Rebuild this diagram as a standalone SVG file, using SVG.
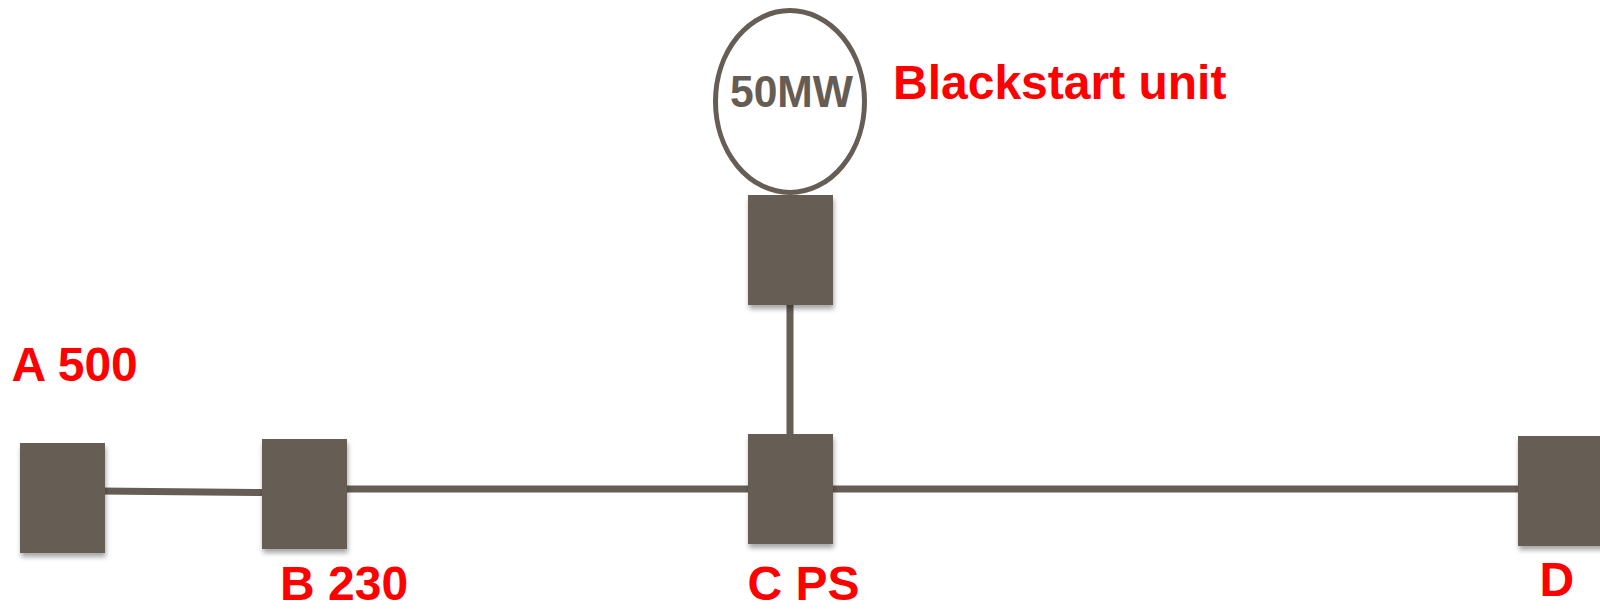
<svg xmlns="http://www.w3.org/2000/svg" width="1600" height="610" viewBox="0 0 1600 610">
  <defs>
    <filter id="shadow" x="-20%" y="-20%" width="140%" height="150%">
      <feDropShadow dx="1" dy="4" stdDeviation="2.5" flood-color="#000000" flood-opacity="0.35"/>
    </filter>
    <style>
      .bus { fill: #665d55; filter: url(#shadow); }
      .line { stroke: #665d55; stroke-width: 7; fill: none; }
      .label { font-family: "Liberation Sans", Arial, sans-serif; font-weight: bold; font-size: 48px; fill: #ff0000; }
      .gen { fill: #ffffff; stroke: #665d55; stroke-width: 5; }
      .genText { font-family: "Liberation Sans", Arial, sans-serif; font-weight: bold; font-size: 44px; fill: #655c53; }
    </style>
  </defs>
  <rect width="1600" height="610" fill="#ffffff"/>

  <g id="connectors">
    <line class="line" x1="100" y1="491" x2="266" y2="492.5"/>
    <line class="line" x1="342" y1="489" x2="752" y2="489"/>
    <line class="line" x1="828" y1="489" x2="1522" y2="489"/>
    <line class="line" x1="790" y1="300" x2="790" y2="438"/>
  </g>

  <g id="generator">
    <ellipse class="gen" cx="790" cy="101.5" rx="74.5" ry="91"/>
    <text class="genText" x="730" y="106.5" textLength="123" lengthAdjust="spacingAndGlyphs">50MW</text>
  </g>
  <g id="gen-bus">
    <rect class="bus" x="748" y="195" width="85" height="110"/>
  </g>
  <g id="blackstart-label">
    <text class="label" x="893" y="98.5">Blackstart unit</text>
  </g>

  <g id="node-A">
    <rect class="bus" x="20" y="443" width="85" height="110"/>
    <text class="label" x="11.5" y="380.5">A 500</text>
  </g>
  <g id="node-B">
    <rect class="bus" x="262" y="439" width="85" height="110"/>
    <text class="label" x="280" y="600">B 230</text>
  </g>
  <g id="node-C">
    <rect class="bus" x="748" y="434" width="85" height="110"/>
    <text class="label" x="747.5" y="600">C PS</text>
  </g>
  <g id="node-D">
    <rect class="bus" x="1518" y="436" width="90" height="110"/>
    <text class="label" x="1539.5" y="596">D</text>
  </g>
</svg>
